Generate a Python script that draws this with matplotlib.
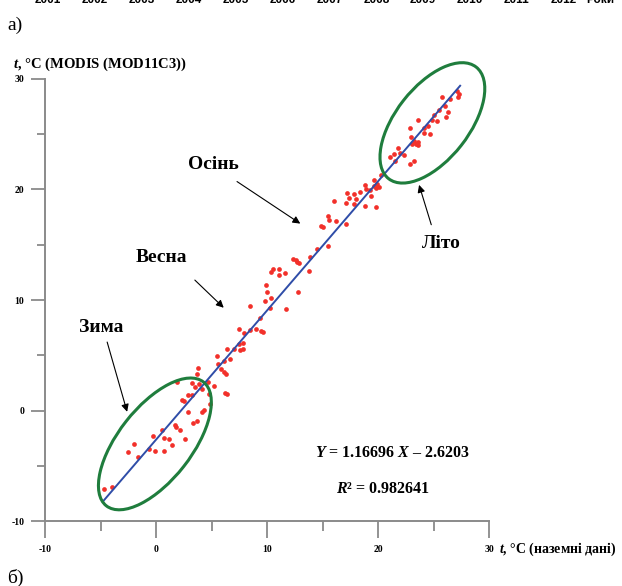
import numpy as np
import matplotlib
matplotlib.use("Agg")
import matplotlib.pyplot as plt
from matplotlib.patches import Ellipse

# ground station temperature (x) vs MODIS MOD11C3 temperature (y), monthly means
ground_t = [3.7, 1.9, 3.2, 4.7, 3.9, 3.5, 4.1, 5.2, 3.2, 2.9, 4.8, 2.3, 2.5, 4.9, 4.3, 4.1, 2.9, 3.7,
            3.3, 1.7, 1.8, 2.2, 0.5, -0.3, 0.7, 1.2, 2.6, -2.0, 1.4, -0.6, -0.1, 0.7, -2.5, -1.6, -4.0, -4.7,
            5.9, 6.1, 6.3, 6.2, 6.4, 3.8, 5.6, 6.1, 5.5, 6.7, 6.4, 7.0, 7.6, 7.8, 7.5, 7.8, 7.9, 8.5, 7.5,
            9.0, 9.5, 9.6, 9.4, 8.5, 11.7, 10.3, 9.8, 10.4, 10.0, 9.9,
            18.8, 19.6, 18.9, 19.3, 18.4, 17.8, 17.2, 19.4, 17.4, 18.0, 17.1, 17.8, 18.8, 16.0, 15.5, 15.6,
            16.2, 17.1, 14.9, 15.0, 15.5, 14.5, 13.9, 12.3, 12.6, 12.7, 12.9, 11.1, 10.5, 10.4, 11.1, 11.6,
            13.8, 12.8,
            19.8, 19.6, 19.9, 20.1, 19.8, 20.3, 21.1, 21.4, 21.8, 22.0, 22.3, 21.5, 23.2, 22.9, 25.8, 26.5,
            27.1, 27.3, 27.2, 26.0, 25.5, 26.3, 25.0, 26.1, 25.3, 24.9, 23.6, 24.5, 24.1, 22.9, 24.1, 24.7,
            23.0, 23.2, 23.6, 23.4, 23.1, 23.6]
modis_t = [3.3, 2.6, 2.5, 2.6, 2.4, 2.1, 2.0, 2.2, 1.4, 1.4, 1.5, 1.0, 0.9, 0.6, 0.1, -0.1, -0.1, -0.9,
           -1.1, -1.3, -1.5, -1.7, -1.7, -2.3, -2.5, -2.6, -2.6, -3.0, -3.1, -3.5, -3.6, -3.6, -3.7, -4.2, -6.9, -7.1,
           3.8, 3.5, 3.3, 1.6, 1.5, 3.9, 4.2, 4.5, 4.9, 4.7, 5.6, 5.6, 5.5, 5.6, 6.0, 6.1, 7.0, 7.3, 7.4,
           7.4, 7.2, 7.1, 8.4, 9.5, 9.2, 9.3, 9.9, 10.2, 10.7, 11.4,
           20.4, 20.3, 20.0, 19.9, 19.8, 19.6, 19.7, 19.4, 19.2, 19.1, 18.8, 18.7, 18.5, 18.9, 17.6, 17.2,
           17.1, 16.9, 16.7, 16.6, 14.9, 14.6, 13.9, 13.7, 13.6, 13.4, 13.3, 12.8, 12.8, 12.5, 12.3, 12.4,
           12.6, 10.7,
           18.4, 20.8, 20.5, 20.2, 20.1, 21.3, 22.9, 23.2, 23.7, 23.3, 23.1, 22.6, 22.6, 22.3, 28.3, 28.2,
           28.9, 28.6, 28.3, 27.5, 27.2, 27.0, 26.7, 26.5, 26.2, 26.3, 26.3, 25.7, 25.5, 25.5, 25.1, 25.0,
           24.7, 24.4, 24.3, 24.1, 24.1, 24.0]

slope = 1.16696
intercept = -2.6203
r2 = 0.982641
fit_x = [-4.75, 27.4]

ticks = [-10, 0, 10, 20, 30]
minor_ticks = [-5, 5, 15, 25]
years = ["2001", "2002", "2003", "2004", "2005", "2006", "2007", "2008", "2009", "2010", "2011", "2012"]

plt.rcParams["font.family"] = "Liberation Serif"
plt.rcParams["font.weight"] = "bold"
plt.rcParams["axes.unicode_minus"] = False
plt.rcParams["mathtext.fontset"] = "custom"
plt.rcParams["mathtext.rm"] = "Liberation Serif"
plt.rcParams["mathtext.it"] = "Liberation Serif:italic"
plt.rcParams["mathtext.bf"] = "Liberation Serif:bold"
plt.rcParams["mathtext.bfit"] = "Liberation Serif:bold:italic"

gray = "#8a8a8a"
red = "#f2302a"
blue = "#2f4da8"
green = "#1f7d3d"

W, H = 622, 586
fig = plt.figure(figsize=(W / 100, H / 100), dpi=100)
ax = fig.add_axes([45 / W, 1 - 521.4 / H, 444 / W, 442.8 / H])

ax.plot(ground_t, modis_t, "o", color=red, ms=3.4, mec="none", zorder=2)
fx = np.array(fit_x)
ax.plot(fx, slope * fx + intercept, color=blue, lw=1.4, zorder=3)

# season ellipses
ax.add_patch(Ellipse((-0.1, -3.0), 14.2, 6.6, angle=52, fill=False, ec=green, lw=2.2,
                     zorder=4, clip_on=False))
ax.add_patch(Ellipse((24.9, 26.0), 12.8, 6.6, angle=52, fill=False, ec=green, lw=2.2,
                     zorder=4, clip_on=False))

ax.set_xlim(-10, 30)
ax.set_ylim(-10, 30)
ax.set_xticks(ticks)
ax.set_yticks(ticks)
ax.set_xticks(minor_ticks, minor=True)
ax.set_yticks(minor_ticks, minor=True)
for s in ["top", "right"]:
    ax.spines[s].set_visible(False)
for s in ["left", "bottom"]:
    ax.spines[s].set_color(gray)
    ax.spines[s].set_linewidth(1.4)
ax.tick_params(which="both", color=gray, width=1.3, labelsize=7, direction="out")
ax.tick_params(axis="y", which="major", length=10, pad=5)
ax.tick_params(axis="y", which="minor", length=5.5)
ax.tick_params(axis="x", which="major", length=12, pad=5)
ax.tick_params(axis="x", which="minor", length=7)

arrow = dict(arrowstyle="-|>", color="black", lw=0.8, mutation_scale=11, shrinkA=0, shrinkB=0)
labels = [("Осінь", (5.2, 22.2), (7.3, 20.7), (13.0, 16.9)),
          ("Весна", (0.45, 13.8), (3.5, 11.8), (6.1, 9.3)),
          ("Зима", (-4.95, 7.5), (-4.4, 6.2), (-2.6, -0.1)),
          ("Літо", (25.7, 15.1), (24.8, 16.8), (23.7, 20.4))]
for txt, tpos, tail, head in labels:
    ax.text(tpos[0], tpos[1], txt, fontsize=14, ha="center", va="center")
    ax.annotate("", xy=head, xytext=tail, arrowprops=arrow)

ax.text(21.3, -3.85, "$Y$ = %.5f $X$ – %.4f" % (slope, -intercept), fontsize=11.5, ha="center", va="center")
ax.text(20.4, -7.1, "$R$² = %.6f" % r2, fontsize=11.5, ha="center", va="center")

fig.text(13 / W, 1 - 64 / H, r"$\mathbfit{t}$, $\mathrm{°C}$ (MODIS (MOD11C3))", fontsize=10.5, va="center")
fig.text(499 / W, 1 - 549 / H, r"$\mathbfit{t}$, $\mathrm{°C}$ (наземні дані)", fontsize=10, va="center")

# cut-off axis of the chart above
for i, y in enumerate(years):
    fig.text((48 + i * 46.9) / W, 1 - 3 / H, y, fontsize=8.5, family="Liberation Sans",
             ha="center", va="baseline")
fig.text(600 / W, 1 - 3 / H, "Роки", fontsize=8.5, family="Liberation Sans", ha="center", va="baseline")
fig.text(7 / W, 1 - 25 / H, "а)", fontsize=14, weight="normal", va="center")
fig.text(7 / W, 1 - 578 / H, "б)", fontsize=14, weight="normal", va="center")

fig.savefig("out.png", dpi=100)
